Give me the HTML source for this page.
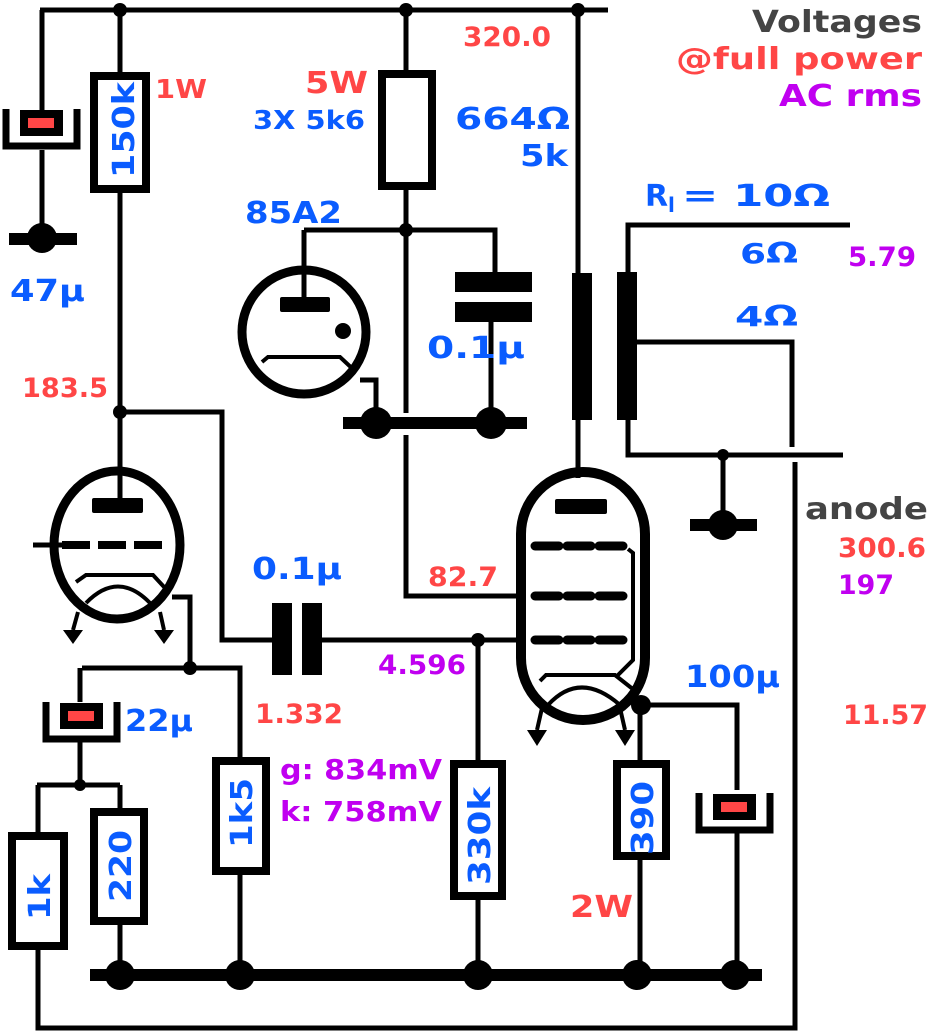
<!DOCTYPE html>
<html><head><meta charset="utf-8"><style>
html,body{margin:0;padding:0;background:#fff;}
svg{display:block;}
text{font-family:"DejaVu Sans","Liberation Sans",sans-serif;font-weight:bold;}
.b{fill:#0a5cff}.r{fill:#ff4646}.p{fill:#c000f0}.g{fill:#444}
</style></head><body>
<svg width="933" height="1036" viewBox="0 0 933 1036" xmlns="http://www.w3.org/2000/svg">
<g stroke="#000" fill="none" stroke-width="5">
<path d="M40 10H608"/>
<path d="M42 10V110M42 150V238"/>
<path d="M120 10V72M120 193V498"/>
<path d="M406 10V70M406 190V413M406 435V596H520"/>
<path d="M578 10V273M578 420V478"/>
<path d="M304 230H495V272M304 230V297"/>
<path d="M491 322V423"/>
<path d="M360 380H376V420"/>
<path d="M628 272V225H850M637 342H792V447M628 420V455H843M723 455V520"/>
<path d="M795 462V1028H38V950"/>
<path d="M120 412H222V640H272M322 640H520"/>
<path d="M33 545H62"/>
<path d="M172 597H190V668M82 668H240V757M240 875V975"/>
<path d="M80 668V702M80 742V785M37 785H120M38 785V832M120 785V808M120 925V975M38 950V960"/>
<path d="M478 640V760M478 900V975"/>
<path d="M641 705H737V790M640 705V760M640 860V975M737 830V975"/>
</g>
<rect x="90" y="969" width="672" height="12"/>
<rect x="343" y="417" width="184" height="12"/>
<rect x="9" y="233" width="68" height="12"/>
<rect x="690" y="519" width="67" height="12"/>
<g fill="#000">
<circle cx="120" cy="10" r="7"/><circle cx="406" cy="10" r="7"/><circle cx="578" cy="10" r="7"/>
<circle cx="42" cy="238" r="15"/><circle cx="723" cy="525" r="15"/><circle cx="723" cy="455" r="6"/>
<circle cx="376" cy="423" r="16"/><circle cx="491" cy="423" r="16"/><circle cx="406" cy="230" r="7"/>
<circle cx="120" cy="412" r="7"/><circle cx="190" cy="668" r="7"/><circle cx="80" cy="785" r="6"/>
<circle cx="478" cy="640" r="7"/><circle cx="641" cy="705" r="10"/>
<circle cx="120" cy="975" r="15"/><circle cx="240" cy="975" r="15"/><circle cx="478" cy="975" r="15"/><circle cx="637" cy="975" r="15"/><circle cx="735" cy="975" r="15"/>
<rect x="572" y="273" width="20" height="147"/><rect x="617" y="272" width="20" height="148"/>
<rect x="455" y="272" width="77" height="20"/><rect x="455" y="302" width="77" height="20"/>
<rect x="272" y="603" width="20" height="72"/><rect x="302" y="603" width="20" height="72"/>
</g>
<g>
<path d="M6 109V146H77V109" stroke="#000" stroke-width="7" fill="none"/>
<rect x="20" y="110" width="43" height="26" fill="#000"/><rect x="28" y="118" width="26" height="10" fill="#ff4646"/>
<path d="M46 702V739H117V702" stroke="#000" stroke-width="7" fill="none"/>
<rect x="60" y="703" width="43" height="26" fill="#000"/><rect x="68" y="711" width="26" height="10" fill="#ff4646"/>
<path d="M699 793V830H770V793" stroke="#000" stroke-width="7" fill="none"/>
<rect x="713" y="794" width="43" height="26" fill="#000"/><rect x="721" y="802" width="26" height="10" fill="#ff4646"/>
</g>
<g stroke="#000" stroke-width="8" fill="#fff">
<rect x="94" y="76" width="52" height="113"/>
<rect x="382" y="74" width="50" height="112"/>
<rect x="216" y="761" width="50" height="110"/>
<rect x="12" y="836" width="52" height="110"/>
<rect x="94" y="812" width="50" height="109"/>
<rect x="454" y="764" width="48" height="132"/>
<rect x="617" y="764" width="49" height="92"/>
</g>
<g class="b" font-size="30">
<text transform="translate(134 178) rotate(-90)" textLength="96" lengthAdjust="spacingAndGlyphs">150k</text>
<text transform="translate(252 848) rotate(-90)" textLength="70" lengthAdjust="spacingAndGlyphs">1k5</text>
<text transform="translate(50 920) rotate(-90)" textLength="46" lengthAdjust="spacingAndGlyphs">1k</text>
<text transform="translate(131 902) rotate(-90)" textLength="72" lengthAdjust="spacingAndGlyphs">220</text>
<text transform="translate(490 885) rotate(-90)" textLength="98" lengthAdjust="spacingAndGlyphs">330k</text>
<text transform="translate(653 855) rotate(-90)" textLength="74" lengthAdjust="spacingAndGlyphs">390</text>
</g>
<g stroke="#000" fill="none">
<ellipse cx="117" cy="545" rx="63" ry="74" stroke-width="9"/>
<path d="M120 498V510" stroke-width="5"/>
<path d="M62 545H166" stroke-width="8" stroke-dasharray="28 8"/>
<path d="M76 582L86 575H153L165 588" stroke-width="4"/>
<path d="M86 603Q118 570 150 603" stroke-width="4"/>
<path d="M78 612L73 630M160 612L164 630" stroke-width="4"/>
<circle cx="304" cy="332" r="62" stroke-width="9"/>
<path d="M262 362L268 357H340L356 372" stroke-width="4"/>
<rect x="521" y="472" width="124" height="248" rx="62" stroke-width="10"/>
<path d="M535 546H625M535 596H625M535 640H625" stroke-width="9" stroke-dasharray="24 8" stroke-linecap="round"/>
<path d="M628 549L633 553V660L618 675M540 681L546 675H615L634 690" stroke-width="4"/>
<path d="M548 705Q580 670 620 705" stroke-width="4"/>
<path d="M542 708L537 730M620 708L625 730" stroke-width="4"/>
</g>
<g fill="#000">
<rect x="92" y="498" width="51" height="15" rx="2"/>
<rect x="280" y="297" width="50" height="15" rx="2"/>
<circle cx="343" cy="331" r="8"/>
<rect x="555" y="499" width="52" height="15" rx="2"/>
<path d="M63 630H83L73 644Z M154 630H174L164 644Z M527 730H547L537 746Z M615 730H635L625 746Z"/>
</g>
<g font-size="30">
<text x="752" y="32" class="g" textLength="170" lengthAdjust="spacingAndGlyphs">Voltages</text>
<text x="676" y="69" class="r" textLength="246" lengthAdjust="spacingAndGlyphs">@full power</text>
<text x="779" y="106" class="p" textLength="143" lengthAdjust="spacingAndGlyphs">AC rms</text>
<text x="463" y="46" class="r" font-size="27" textLength="88" lengthAdjust="spacingAndGlyphs">320.0</text>
<text x="305" y="93" class="r" textLength="63" lengthAdjust="spacingAndGlyphs">5W</text>
<text x="253" y="129" class="b" font-size="26" textLength="112" lengthAdjust="spacingAndGlyphs">3X 5k6</text>
<text x="455" y="129" class="b" textLength="115" lengthAdjust="spacingAndGlyphs">664Ω</text>
<text x="520" y="166" class="b" textLength="48" lengthAdjust="spacingAndGlyphs">5k</text>
<text x="645" y="206" class="b">R</text>
<text x="668" y="212" class="b" font-size="20" font-family="Liberation Serif">l</text>
<text x="682" y="206" class="b" textLength="148" lengthAdjust="spacingAndGlyphs">= 10Ω</text>
<text x="740" y="263" class="b" font-size="28" textLength="58" lengthAdjust="spacingAndGlyphs">6Ω</text>
<text x="848" y="266" class="p" font-size="27" textLength="68" lengthAdjust="spacingAndGlyphs">5.79</text>
<text x="735" y="326" class="b" font-size="28" textLength="63" lengthAdjust="spacingAndGlyphs">4Ω</text>
<text x="245" y="223" class="b" textLength="97" lengthAdjust="spacingAndGlyphs">85A2</text>
<text x="427" y="358" class="b" textLength="98" lengthAdjust="spacingAndGlyphs">0.1µ</text>
<text x="22" y="397" class="r" font-size="27" textLength="86" lengthAdjust="spacingAndGlyphs">183.5</text>
<text x="155" y="98" class="r" font-size="26" textLength="52" lengthAdjust="spacingAndGlyphs">1W</text>
<text x="10" y="301" class="b" textLength="75" lengthAdjust="spacingAndGlyphs">47µ</text>
<text x="805" y="519" class="g" textLength="123" lengthAdjust="spacingAndGlyphs">anode</text>
<text x="838" y="557" class="r" font-size="27" textLength="88" lengthAdjust="spacingAndGlyphs">300.6</text>
<text x="838" y="594" class="p" font-size="27" textLength="56" lengthAdjust="spacingAndGlyphs">197</text>
<text x="252" y="579" class="b" textLength="90" lengthAdjust="spacingAndGlyphs">0.1µ</text>
<text x="428" y="586" class="r" font-size="27" textLength="70" lengthAdjust="spacingAndGlyphs">82.7</text>
<text x="378" y="674" class="p" font-size="27" textLength="88" lengthAdjust="spacingAndGlyphs">4.596</text>
<text x="685" y="687" class="b" textLength="95" lengthAdjust="spacingAndGlyphs">100µ</text>
<text x="255" y="723" class="r" font-size="27" textLength="88" lengthAdjust="spacingAndGlyphs">1.332</text>
<text x="843" y="724" class="r" font-size="27" textLength="85" lengthAdjust="spacingAndGlyphs">11.57</text>
<text x="125" y="731" class="b" textLength="68" lengthAdjust="spacingAndGlyphs">22µ</text>
<text x="280" y="779" class="p" font-size="28" textLength="162" lengthAdjust="spacingAndGlyphs">g: 834mV</text>
<text x="280" y="821" class="p" font-size="28" textLength="162" lengthAdjust="spacingAndGlyphs">k: 758mV</text>
<text x="570" y="917" class="r" textLength="63" lengthAdjust="spacingAndGlyphs">2W</text>
</g>
</svg>
</body></html>
